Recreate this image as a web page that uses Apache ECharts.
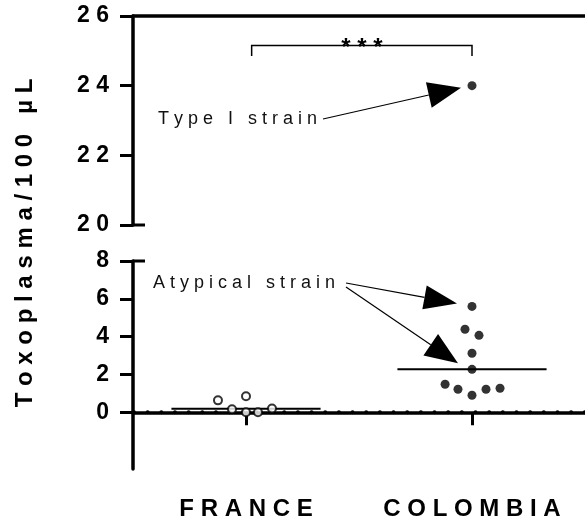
<!DOCTYPE html>
<html>
<head>
<meta charset="utf-8">
<script src="https://cdn.jsdelivr.net/npm/echarts@6/dist/echarts.min.js"></script>
<style>
html,body{margin:0;padding:0;background:#fff;}
#chart{width:585px;height:522px;}
</style>
</head>
<body>
<div id="chart"></div>
<script>
// ---- data ----
const categories = ['FRANCE', 'COLOMBIA'];
const franceValues = [0.63, 0.85, 0.16, 0, 0, 0.2];
const franceJitter = [-0.124, 0, -0.062, 0, 0.053, 0.115];
const colombiaValues = [24, 5.6, 4.39, 4.07, 3.12, 2.27, 1.48, 1.22, 0.9, 1.22, 1.27];
const colombiaJitter = [0, 0, -0.031, 0.031, 0, 0, -0.119, -0.062, 0, 0.062, 0.124];
const upperTicks = [20, 22, 24, 26];
const lowerTicks = [0, 2, 4, 6, 8];
const lowerMin = -3;
const breakValue = 20;
const referenceValue = 0;
const yAxisTitle = 'Toxoplasma/100 µL';
const significance = '***';
const typeILabel = 'Type I strain';
const atypicalLabel = 'Atypical strain';
const typeIValue = 24;
const atypicalValues = [5.6, 2.27];

// ---- helpers ----
function spaced(s, gap) {
  gap = gap || ' ';
  return s.split(' ').map(w => w.split('').join(gap)).join(gap + gap + gap);
}
function median(arr) {
  const a = arr.slice().sort((x, y) => x - y);
  const n = a.length;
  return n % 2 ? a[(n - 1) / 2] : (a[n / 2 - 1] + a[n / 2]) / 2;
}
function points(values, jitter, center, upper) {
  const out = [];
  values.forEach((v, i) => {
    if ((v >= breakValue) === upper) out.push([center + jitter[i], v]);
  });
  return out;
}
const xMin = 0, xMax = categories.length;
const centers = categories.map((c, i) => i + 0.5);
const FONT = 'Liberation Sans, Arial, sans-serif';
const axisLineStyle = { color: '#000', width: 3.5 };
const tickStyle = { color: '#000', width: 3 };
const labelBase = { color: '#000', fontFamily: FONT, fontWeight: 'bold', fontSize: 23 };

const chart = echarts.init(document.getElementById('chart'));
const medHalf = 0.33;
const groups = [
  { values: franceValues, jitter: franceJitter, open: true },
  { values: colombiaValues, jitter: colombiaJitter, open: false }
];

const series = [];
// zero reference dotted line
series.push({
  type: 'line',
  xAxisIndex: 1,
  yAxisIndex: 1,
  symbol: 'none',
  silent: true,
  z: 2,
  lineStyle: { color: '#000', width: 4, type: [0.01, 13.65], cap: 'round', dashOffset: -1 },
  data: [[xMin, referenceValue], [xMax, referenceValue]]
});
groups.forEach((g, gi) => {
  const style = g.open
    ? { color: '#fff', borderColor: '#000', borderWidth: 2 }
    : { color: '#000' };
  const size = g.open ? 8 : 9;
  [true, false].forEach(upper => {
    series.push({
      type: 'scatter',
      xAxisIndex: upper ? 0 : 1,
      yAxisIndex: upper ? 0 : 1,
      symbol: 'circle',
      symbolSize: size,
      itemStyle: style,
      z: 5,
      data: points(g.values, g.jitter, centers[gi], upper)
    });
  });
  const m = median(g.values);
  series.push({
    type: 'line',
    xAxisIndex: m >= breakValue ? 0 : 1,
    yAxisIndex: m >= breakValue ? 0 : 1,
    symbol: 'none',
    lineStyle: { color: '#000', width: 2 },
    z: 3,
    data: [[centers[gi] - medHalf, m], [centers[gi] + medHalf, m]]
  });
});

chart.setOption({
  animation: false,
  backgroundColor: '#fff',
  grid: [
    { left: 133, right: 0, top: 16, height: 209 },
    { left: 133, right: 0, top: 261, height: 208 }
  ],
  xAxis: [
    {
      gridIndex: 0, type: 'value', min: xMin, max: xMax, position: 'top',
      axisLine: { show: true, lineStyle: axisLineStyle },
      axisTick: { show: false }, axisLabel: { show: false }, splitLine: { show: false }
    },
    {
      gridIndex: 1, type: 'value', min: xMin, max: xMax, position: 'bottom',
      axisLine: { show: true, lineStyle: axisLineStyle },
      axisTick: { show: true, customValues: centers, length: 13, lineStyle: tickStyle },
      axisLabel: Object.assign({}, labelBase, {
        customValues: centers, fontSize: 24, margin: 28,
        formatter: v => spaced(categories[Math.floor(v)])
      }),
      splitLine: { show: false }
    }
  ],
  yAxis: [
    {
      gridIndex: 0, type: 'value', min: upperTicks[0], max: upperTicks[upperTicks.length - 1], interval: 2,
      axisLine: { show: true, lineStyle: axisLineStyle },
      axisTick: { show: true, length: 13, lineStyle: tickStyle },
      axisLabel: Object.assign({}, labelBase, { margin: 24, formatter: v => spaced(String(v)) }),
      splitLine: { show: false }
    },
    {
      gridIndex: 1, type: 'value', min: lowerMin, max: lowerTicks[lowerTicks.length - 1],
      axisLine: { show: true, lineStyle: axisLineStyle },
      axisTick: { show: true, customValues: lowerTicks, length: 13, lineStyle: tickStyle },
      axisLabel: Object.assign({}, labelBase, { customValues: lowerTicks, margin: 24, formatter: v => String(v) }),
      splitLine: { show: false }
    }
  ],
  series: series
});

// ---- annotations ----
function px(v, x) {
  const upper = v >= breakValue;
  return chart.convertToPixel({ xAxisIndex: upper ? 0 : 1, yAxisIndex: upper ? 0 : 1 }, [x, v]);
}
function colombiaPoint(v) {
  const i = colombiaValues.indexOf(v);
  return px(v, centers[1] + colombiaJitter[i]);
}
function arrow(from, tip, headLen, headHalf) {
  const dx = tip[0] - from[0], dy = tip[1] - from[1];
  const L = Math.sqrt(dx * dx + dy * dy);
  const ux = dx / L, uy = dy / L;
  const bx = tip[0] - ux * headLen, by = tip[1] - uy * headLen;
  return [
    { type: 'line', shape: { x1: from[0], y1: from[1], x2: bx, y2: by }, style: { stroke: '#000', lineWidth: 1.2 } },
    { type: 'polygon', shape: { points: [tip, [bx - uy * headHalf, by + ux * headHalf], [bx + uy * headHalf, by - ux * headHalf]] }, style: { fill: '#000' } }
  ];
}
const txtStyle = { fill: '#111', font: '18px ' + FONT, verticalAlign: 'middle' };
const elems = [];

// break caps: ticks at segment ends extend to both sides of the axis
const axisX = chart.convertToPixel({ xAxisIndex: 1 }, xMin);
[[0, upperTicks[0]], [1, lowerTicks[lowerTicks.length - 1]]].forEach(([ai, v]) => {
  const y = chart.convertToPixel({ yAxisIndex: ai }, v);
  elems.push({ type: 'line', shape: { x1: axisX, y1: y, x2: axisX + 12, y2: y }, style: { stroke: '#000', lineWidth: 3 } });
});

// y axis title
elems.push({
  type: 'text', x: 25, y: 243, rotation: Math.PI / 2,
  style: { text: spaced(yAxisTitle), fill: '#000', font: 'bold 24px ' + FONT, align: 'center', verticalAlign: 'middle' }
});

// significance bracket
const bTop = 25.15, bEnd = 24.85;
const bl = chart.convertToPixel({ xAxisIndex: 0, yAxisIndex: 0 }, [centers[0] + 0.025, bTop]);
const br = chart.convertToPixel({ xAxisIndex: 0, yAxisIndex: 0 }, [centers[1], bTop]);
const bEndY = chart.convertToPixel({ yAxisIndex: 0 }, bEnd);
elems.push({
  type: 'polyline',
  shape: { points: [[bl[0], bEndY], [bl[0], bl[1]], [br[0], br[1]], [br[0], bEndY]] },
  style: { stroke: '#000', lineWidth: 1.5, fill: null }
});
elems.push({
  type: 'text', x: (bl[0] + br[0]) / 2, y: bl[1] + 3,
  style: { text: spaced(significance), fill: '#000', font: 'bold 24px ' + FONT, align: 'center', verticalAlign: 'middle' }
});

// Type I strain
const p24 = colombiaPoint(typeIValue);
elems.push({ type: 'text', x: 158, y: 119, style: Object.assign({ text: spaced(typeILabel, ' ') }, txtStyle) });
elems.push(...arrow([323, 119], [p24[0] - 11, p24[1] + 2], 33, 13));

// Atypical strain
const pa = colombiaPoint(atypicalValues[0]);
const pb = colombiaPoint(atypicalValues[1]);
elems.push({ type: 'text', x: 153, y: 283, style: Object.assign({ text: spaced(atypicalLabel, ' ') }, txtStyle) });
elems.push(...arrow([346, 283], [pa[0] - 15, pa[1] - 3], 33, 12));
elems.push(...arrow([346, 287], [pb[0] - 14, pb[1] - 6], 33, 13));

chart.setOption({ graphic: { elements: elems } });
</script>
</body>
</html>
